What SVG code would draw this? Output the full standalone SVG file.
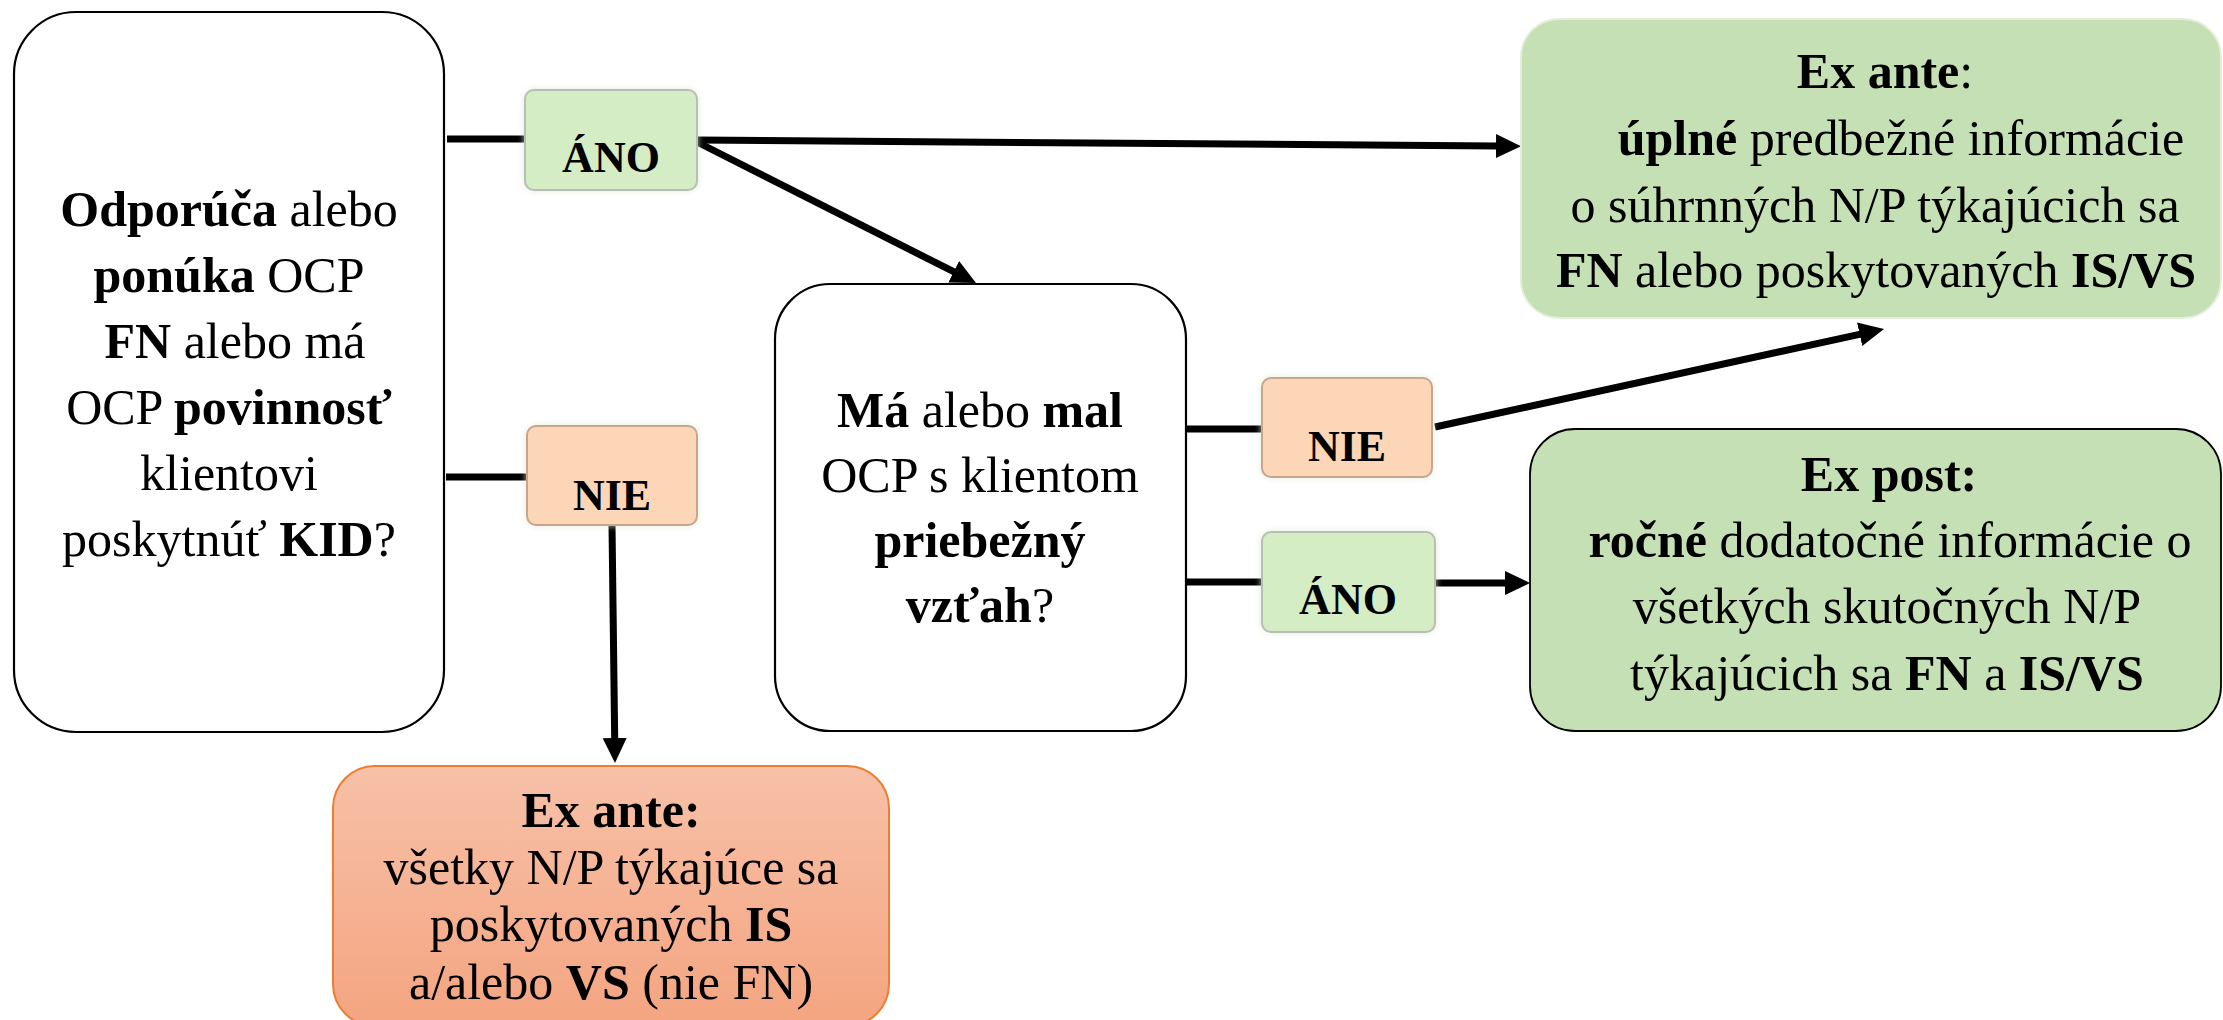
<svg xmlns="http://www.w3.org/2000/svg" width="2223" height="1020" viewBox="0 0 2223 1020">
<style>
  text { font-family: "Liberation Serif", "DejaVu Serif", serif; font-size: 50px; fill: #000; text-anchor: middle; }
  .b { font-weight: bold; }
  .lbl { font-size: 44px; font-weight: bold; }
  .q { fill: #fff; stroke: #000; stroke-width: 2.2; }
  .yes { fill: #d4edc4; stroke: #b9bdb6; stroke-width: 2; filter: url(#glow); }
  .no { fill: #fdd6b7; stroke: #c9a48e; stroke-width: 2; filter: url(#glow); }
  .res { fill: #c5e0b4; }
  .conn line { stroke: #000; stroke-width: 7; }
</style>
<defs>
  <marker id="ah" markerUnits="userSpaceOnUse" markerWidth="26" markerHeight="26" viewBox="0 0 26 26" refX="1" refY="13" orient="auto">
    <path d="M0,1 L25,13 L0,25 z" fill="#000"/>
  </marker>
  <linearGradient id="og" x1="0" y1="0" x2="0" y2="1">
    <stop offset="0" stop-color="#f7c1a8"/>
    <stop offset="1" stop-color="#f4a480"/>
  </linearGradient>
  <filter id="glow" x="-10%" y="-10%" width="120%" height="120%">
    <feDropShadow dx="0" dy="0" stdDeviation="3" flood-color="#d9e6cf" flood-opacity="0.8"/>
  </filter>
</defs>

<g id="connectors" class="conn">
  <line x1="447" y1="139" x2="526" y2="139"/>
  <line x1="446" y1="477" x2="528" y2="477"/>
  <line x1="612" y1="525" x2="614.7" y2="739" marker-end="url(#ah)"/>
  <line x1="697" y1="140" x2="1497" y2="146" marker-end="url(#ah)"/>
  <line x1="697" y1="142" x2="954.6" y2="272.2" marker-end="url(#ah)"/>
  <line x1="1186" y1="429" x2="1263" y2="429"/>
  <line x1="1186" y1="582" x2="1263" y2="582"/>
  <line x1="1435" y1="427" x2="1860.6" y2="334.1" marker-end="url(#ah)"/>
  <line x1="1435" y1="583" x2="1506" y2="583" marker-end="url(#ah)"/>
</g>

<g id="q1">
  <rect class="q" x="14" y="12" width="430" height="720" rx="62" ry="62"/>
  <text x="229" y="226"><tspan class="b">Odporúča</tspan> alebo</text>
  <text x="229" y="292"><tspan class="b">ponúka</tspan> OCP</text>
  <text x="235" y="358"><tspan class="b">FN</tspan> alebo má</text>
  <text x="229" y="424">OCP <tspan class="b">povinnosť</tspan></text>
  <text x="229" y="490">klientovi</text>
  <text x="229" y="556">poskytnúť <tspan class="b">KID</tspan>?</text>
</g>

<g id="ano1">
  <rect class="yes" x="525" y="90" width="172" height="100" rx="9" ry="9"/>
  <text class="lbl" x="611" y="172">ÁNO</text>
</g>

<g id="nie1">
  <rect class="no" x="527" y="426" width="170" height="99" rx="9" ry="9"/>
  <text class="lbl" x="612" y="510">NIE</text>
</g>

<g id="exante-ocp">
  <rect x="333" y="766" width="556" height="260" rx="42" ry="42" fill="url(#og)" stroke="#ed7d31" stroke-width="2"/>
  <text x="611" y="827" class="b">Ex ante:</text>
  <text x="611" y="884">všetky N/P týkajúce sa</text>
  <text x="611" y="941">poskytovaných <tspan class="b">IS</tspan></text>
  <text x="611" y="999">a/alebo <tspan class="b">VS</tspan> (nie FN)</text>
</g>

<g id="q2">
  <rect class="q" x="775" y="284" width="411" height="447" rx="55" ry="55"/>
  <text x="980" y="427"><tspan class="b">Má</tspan> alebo <tspan class="b">mal</tspan></text>
  <text x="980" y="492">OCP s klientom</text>
  <text x="980" y="557" class="b">priebežný</text>
  <text x="980" y="622"><tspan class="b">vzťah</tspan>?</text>
</g>

<g id="nie2">
  <rect class="no" x="1262" y="378" width="170" height="99" rx="9" ry="9"/>
  <text class="lbl" x="1347" y="461">NIE</text>
</g>

<g id="ano2">
  <rect class="yes" x="1262" y="532" width="173" height="100" rx="9" ry="9"/>
  <text class="lbl" x="1348" y="614">ÁNO</text>
</g>

<g id="exante-full">
  <rect class="res" x="1521" y="19" width="700" height="299" rx="38" ry="38" stroke="#e3efdb" stroke-width="2"/>
  <text x="1885" y="88"><tspan class="b">Ex ante</tspan>:</text>
  <text x="1901" y="155"><tspan class="b">úplné</tspan> predbežné informácie</text>
  <text x="1875" y="222">o súhrnných N/P týkajúcich sa</text>
  <text x="1876" y="287"><tspan class="b">FN</tspan> alebo poskytovaných <tspan class="b">IS/VS</tspan></text>
</g>

<g id="expost">
  <rect class="res" x="1530" y="429" width="691" height="302" rx="45" ry="45" stroke="#000" stroke-width="1.8"/>
  <text x="1889" y="491" class="b">Ex post:</text>
  <text x="1890" y="557"><tspan class="b">ročné</tspan> dodatočné informácie o</text>
  <text x="1887" y="623">všetkých skutočných N/P</text>
  <text x="1887" y="690">týkajúcich sa <tspan class="b">FN</tspan> a <tspan class="b">IS/VS</tspan></text>
</g>
</svg>
